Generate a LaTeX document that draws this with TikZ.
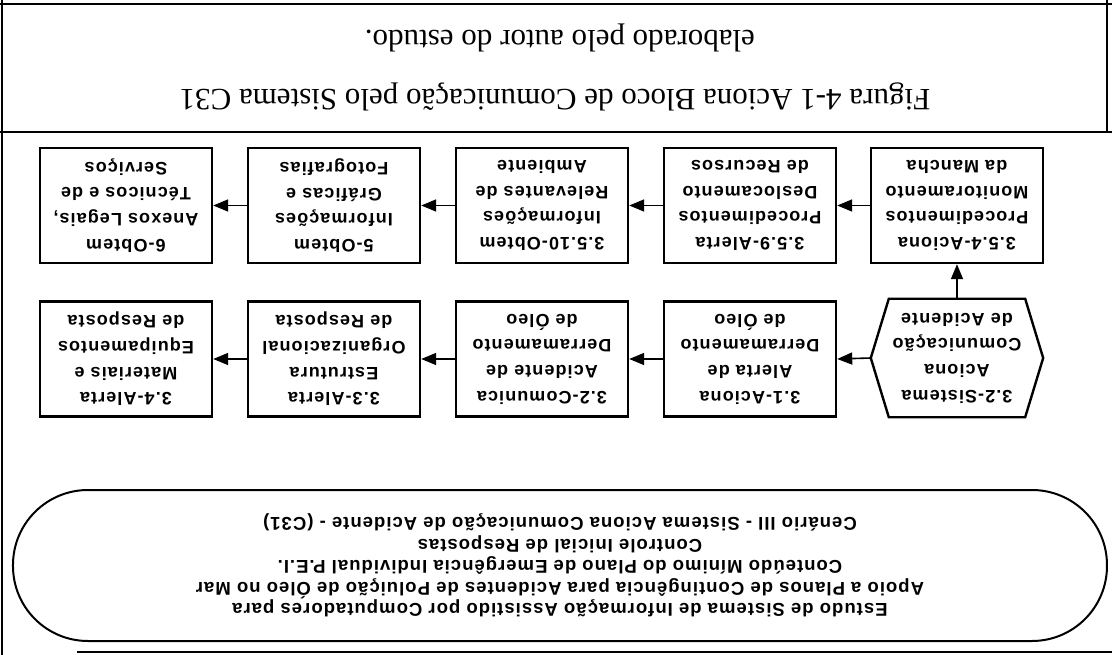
\documentclass[tikz,border=0pt]{standalone}
\usepackage{fontspec}
\setmainfont{Liberation Serif}
\newfontfamily\labelfont[LetterSpace=6]{Liberation Sans}
\newfontfamily\headfont[LetterSpace=5.5]{Liberation Sans}
\usetikzlibrary{arrows.meta}
\begin{document}
\begin{tikzpicture}[x=1pt,y=1pt,rotate=180,transform shape,
  frame/.style={line width=2.4pt},
  stepbox/.style={draw,line width=2.4pt,minimum width=172pt,minimum height=115pt,
    inner sep=0pt,align=center,font=\labelfont\bfseries\fontsize{18}{25.7}\selectfont},
  hexbox/.style={minimum width=172pt,minimum height=118pt,inner sep=0pt,align=center,
    font=\labelfont\bfseries\fontsize{18}{25.7}\selectfont},
  flow/.style={line width=1.6pt,-{Triangle[length=15pt,width=12pt]}},
  scenario/.style={draw,line width=2pt,rounded corners=75pt,minimum width=1094pt,
    minimum height=151pt,inner sep=0pt,align=center,
    font=\headfont\bfseries\fontsize{18.5}{21.5}\selectfont},
  caption/.style={inner sep=0pt,font=\fontsize{31}{31}\selectfont}]
\useasboundingbox (0,0) rectangle (1112,655);

% page frame
\draw[frame] (0,4) -- (1112,4);
\draw[frame] (0,132) -- (1112,132);
\draw[frame] (0,652) -- (1035,652);
\draw[frame] (1110,0) -- (1110,655);
\draw[frame] (5,0) -- (5,132);

% scenario header
\node[scenario] (hdr) at (552,565.5) {Estudo de Sistema de Informação Assistido por Computadores para\\
Apoio a Planos de Contingência para Acidentes de Poluição de Óleo no Mar\\
Conteúdo Mínimo do Plano de Emergência Individual P.E.I.\\
Controle Inicial de Respostas\\
Cenário III - Sistema Aciona Comunicação de Acidente - (C31)};

% upper row
\node[hexbox] (s32) at (155,358) {3.2-Sistema\\Aciona\\Comunicação\\de Acidente};
\draw[line width=2.4pt,line join=miter]
  ([xshift=18pt]s32.north west) -- ([xshift=-18pt]s32.north east) -- (s32.east)
  -- ([xshift=-18pt]s32.south east) -- ([xshift=18pt]s32.south west) -- (s32.west) -- cycle;
\node[stepbox] (a31) at (362,359) {3.1-Aciona\\Alerta de\\Derramamento\\de Óleo};
\node[stepbox] (c32) at (570,359) {3.2-Comunica\\Acidente de\\Derramamento\\de Óleo};
\node[stepbox] (a33) at (778,359) {3.3-Alerta\\Estrutura\\Organizacional\\de Resposta};
\node[stepbox] (a34) at (986,359) {3.4-Alerta\\Materiais e\\Equipamentos\\de Resposta};

% lower row
\node[stepbox] (p354) at (155,205.5) {3.5.4-Aciona\\Procedimentos\\Monitoramento\\da Mancha};
\node[stepbox] (p359) at (362,205.5) {3.5.9-Alerta\\Procedimentos\\Deslocamento\\de Recursos};
\node[stepbox] (p3510) at (570,205.5) {3.5.10-Obtem\\Informações\\Relevantes de\\Ambiente};
\node[stepbox] (o5) at (778,205.5) {5-Obtem\\Informações\\Gráficas e\\Fotografias};
\node[stepbox] (o6) at (986,205.5) {6-Obtem\\Anexos Legais,\\Técnicos e de\\Serviços};

% connectors
\draw[flow] (s32.east) -- (a31.west);
\draw[flow] (a31) -- (c32);
\draw[flow] (c32) -- (a33);
\draw[flow] (a33) -- (a34);
\draw[flow] (s32.south) -- (p354.north);
\draw[flow] (p354) -- (p359);
\draw[flow] (p359) -- (p3510);
\draw[flow] (p3510) -- (o5);
\draw[flow] (o5) -- (o6);

% caption
\node[caption] (fig) at (557,97) {Figura 4-1 Aciona Bloco de Comunicação pelo Sistema C31};
\node[caption] (src) at (552,38) {elaborado pelo autor do estudo.};
\end{tikzpicture}
\end{document}
